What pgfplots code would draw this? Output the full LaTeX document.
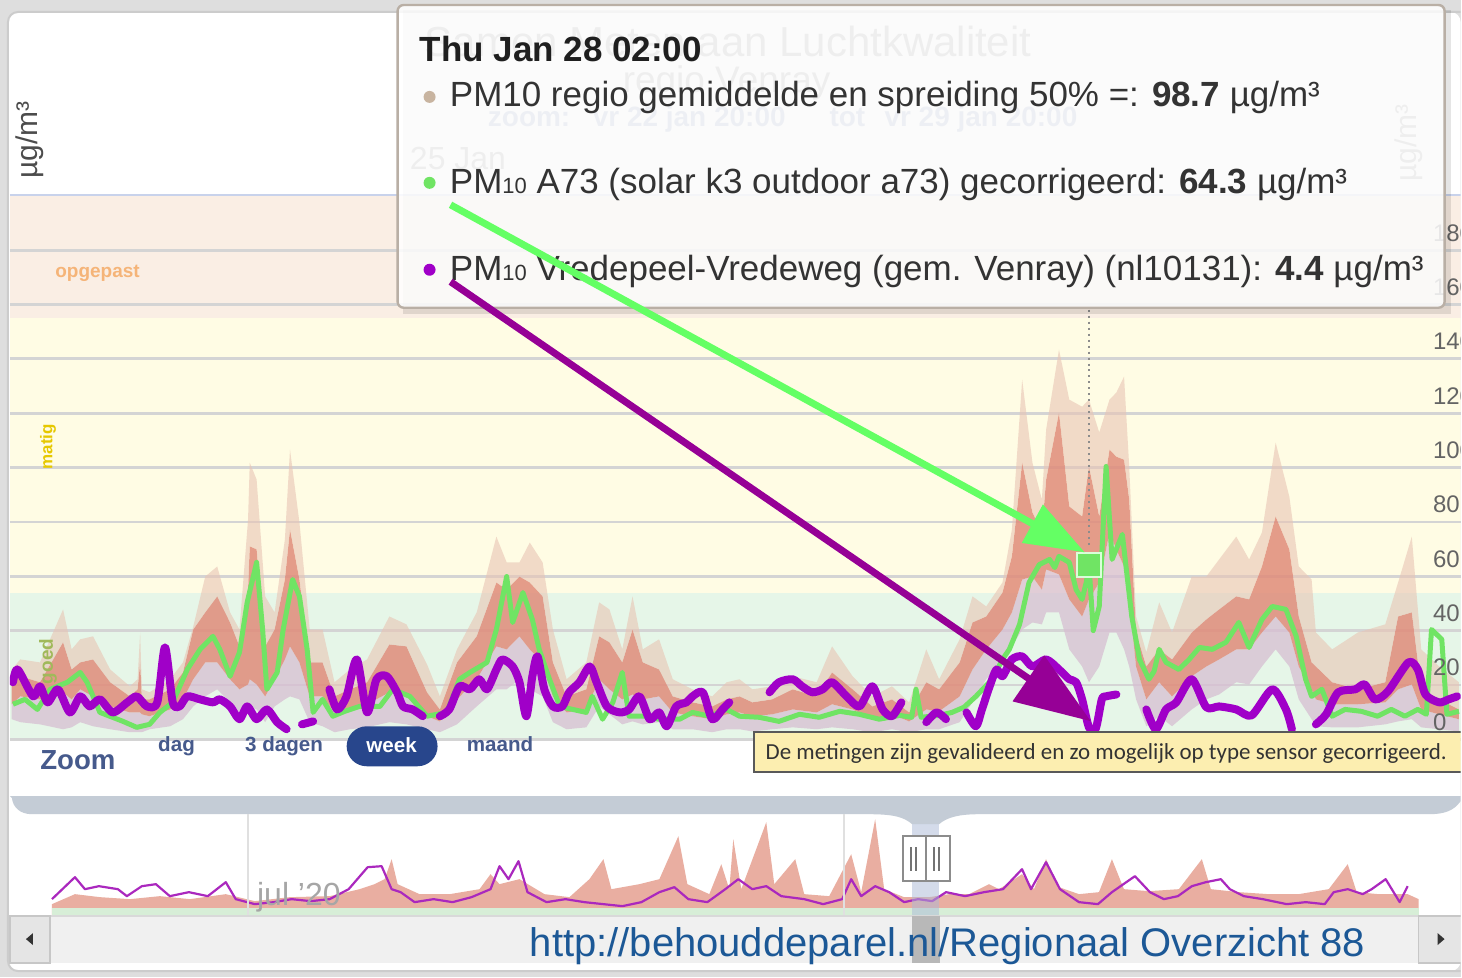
\documentclass[border=0pt]{standalone}
\usepackage{pgfplots}
\pgfplotsset{compat=1.18}
\usepackage{pgfplotstable}
\usetikzlibrary{arrows.meta}
\usepackage{fontspec}
\setmainfont{Liberation Sans}
\newfontfamily\notefont{Carlito}

\definecolor{bggrey}{RGB}{222,222,222}
\definecolor{bandG}{RGB}{230,246,232}
\definecolor{bandY}{RGB}{255,252,228}
\definecolor{bandO}{RGB}{250,238,228}
\definecolor{gridc}{RGB}{212,212,212}
\definecolor{tanc}{RGB}{232,196,180}
\definecolor{salm}{RGB}{224,140,122}
\definecolor{lavc}{RGB}{215,190,210}
\definecolor{grn}{RGB}{112,228,100}
\definecolor{pur}{RGB}{160,0,200}
\definecolor{arrG}{RGB}{100,255,100}
\definecolor{arrP}{RGB}{150,0,150}
\definecolor{navbar}{RGB}{196,204,214}
\definecolor{zoomtxt}{RGB}{70,90,140}
\definecolor{pill}{RGB}{40,70,140}
\definecolor{urlc}{RGB}{28,88,150}
\definecolor{notefill}{RGB}{252,238,176}
\definecolor{tickc}{RGB}{100,100,100}
\definecolor{tanbul}{RGB}{200,180,160}
\definecolor{topline}{RGB}{200,210,235}
\definecolor{navpurc}{RGB}{170,40,190}
\definecolor{navgreen}{RGB}{215,238,215}
\definecolor{subtitle}{RGB}{150,165,200}
\definecolor{maskc}{RGB}{170,185,215}
\definecolor{oppc}{RGB}{245,180,120}
\definecolor{matigc}{RGB}{230,200,0}
\definecolor{goedc}{RGB}{160,185,90}
\definecolor{tipborder}{RGB}{185,175,165}

\newcommand\fs[1]{\fontsize{#1bp}{#1bp}\selectfont}
\newcommand\sub[1]{{\fontsize{11bp}{11bp}\selectfont #1}}

% hours since vr 22 jan 20:00: max, upper 50%, lower 50%, min
\pgfplotstableread{
h hi ih il lo
0.2 25.7 22.1 12.9 7.4
1.2 29.4 23.2 15.8 6.3
3.5 28.3 21.0 14.7 5.5
6.2 47.8 35.7 17.3 3.7
7.2 33.1 25.7 14.7 4.4
8.2 36.8 28.3 18.4 6.3
9.7 37.9 29.4 15.8 4.8
11.7 25.7 21.0 12.1 3.7
14.0 19.5 15.8 9.9 2.6
14.9 22.1 18.4 9.9 2.6
15.2 39.3 28.3 9.9 2.6
15.4 18.4 14.7 9.2 2.6
16.3 17.3 14.7 8.5 3.7
18.7 22.1 18.4 11.0 4.8
20.2 28.3 24.6 14.7 7.4
21.4 41.5 40.4 22.1 12.1
22.8 59.9 46.7 28.3 15.8
24.2 63.6 52.6 28.3 18.4
25.7 46.7 43.0 22.1 13.6
26.8 40.4 34.2 18.4 9.9
27.8 80.9 55.1 20.2 11.0
28.0 101.8 71.0 22.1 12.1
28.8 95.6 69.9 20.2 11.0
29.8 52.6 34.2 15.8 6.3
30.9 46.7 40.4 22.1 12.1
32.1 73.5 58.8 29.4 14.7
32.7 106.6 77.2 34.2 15.8
33.8 79.8 58.8 28.3 14.7
35.0 40.4 28.3 15.8 6.3
36.5 40.4 28.3 15.8 4.8
37.9 21.0 15.8 9.9 2.6
39.7 25.7 18.4 11.0 3.7
41.7 29.4 21.0 12.9 4.4
44.3 45.2 34.9 17.3 6.3
46.3 42.3 34.2 15.8 5.5
48.7 27.6 17.3 8.5 3.7
50.2 15.8 11.0 6.6 2.6
52.2 33.1 28.3 14.7 5.5
54.5 46.7 37.9 22.1 12.1
56.8 74.6 57.7 34.2 18.4
58.0 65.1 55.1 33.1 18.4
59.5 65.1 59.9 37.9 22.1
60.7 72.4 57.7 33.1 18.4
62.2 65.1 52.6 28.3 15.8
63.4 40.4 28.3 15.8 6.3
65.0 22.1 15.8 9.9 3.7
67.3 28.3 18.4 11.0 4.4
68.8 50.4 37.9 22.1 12.1
70.0 47.8 35.7 18.4 9.2
71.5 33.1 28.3 14.7 5.5
72.7 52.6 40.4 16.5 6.6
73.9 33.1 28.3 14.7 5.5
75.8 36.8 25.7 15.8 6.3
77.4 22.1 15.8 9.9 3.7
79.7 18.4 13.6 8.5 3.7
82.0 15.8 12.1 7.4 2.6
83.7 21.0 14.7 9.2 3.7
85.2 22.1 15.8 9.9 3.7
86.7 18.4 13.6 8.5 2.9
89.0 19.5 14.7 9.2 3.7
91.4 23.2 18.4 11.0 4.4
94.2 21.0 15.8 9.9 3.7
96.0 34.2 24.6 12.9 4.4
98.4 23.2 18.4 11.0 3.7
100.7 15.8 12.1 7.4 2.6
103.0 19.5 14.7 9.2 3.7
105.0 13.6 9.9 6.6 2.6
107.0 33.1 21.0 11.0 3.7
108.5 22.1 18.4 10.3 3.7
110.9 36.8 28.3 15.8 6.3
112.4 52.6 43.0 25.7 13.6
114.0 48.9 45.2 33.1 22.1
115.9 57.7 54.0 40.4 28.3
117.0 77.2 67.3 46.7 34.2
118.2 132.4 101.8 58.8 40.4
119.4 101.8 83.5 59.9 43.0
120.5 88.2 76.1 55.1 42.3
121.0 114.0 95.6 62.5 46.7
122.5 143.4 120.2 60.7 46.7
123.7 125.0 85.7 51.5 33.1
125.2 122.4 82.0 45.2 26.8
126.0 125.0 100.4 51.5 21.0
127.2 112.9 82.0 57.7 26.8
128.4 125.0 106.6 76.1 39.3
129.2 127.6 104.0 69.9 39.3
130.1 133.5 102.9 63.6 33.1
130.7 100.4 88.2 51.5 26.8
131.5 45.2 39.3 26.8 14.7
132.7 32.0 26.8 14.7 4.8
134.2 50.4 33.1 21.0 8.5
135.7 39.3 29.4 15.8 4.8
138.0 59.9 39.3 23.2 11.0
139.7 59.9 44.1 26.8 14.7
141.2 66.2 47.8 29.4 16.5
143.2 74.6 52.6 33.1 21.0
144.7 66.2 51.5 33.1 20.2
146.2 76.1 63.6 39.3 26.8
147.8 109.2 82.0 45.2 33.1
149.4 89.3 69.9 39.3 26.8
150.5 63.6 45.2 26.8 14.7
152.0 58.8 28.3 18.4 7.4
152.5 39.3 26.8 14.7 4.8
154.4 33.1 21.0 12.9 4.4
157.4 39.3 18.4 12.9 4.4
160.6 42.3 21.0 13.6 5.5
162.1 57.7 45.2 18.4 6.6
163.7 74.6 46.7 20.2 7.4
164.8 33.1 18.4 11.0 4.4
166.9 26.8 14.7 9.2 3.7
169.2 21.0 11.0 7.4 2.9
}\band

% PM10 A73 gecorrigeerd
\pgfplotstableread{
h v
0.35 12.9
1.75 14.7
3.2 11.0
4.7 18.4
6.7 21.0
8.2 24.6
9.0 21.0
10.5 9.9
13.2 6.6
14.8 4.4
16.3 5.5
17.5 9.9
19.0 13.6
20.7 25.7
22.2 33.1
23.7 37.9
24.5 33.1
25.7 23.2
26.8 32.0
27.7 50.4
28.8 65.1
29.5 40.4
30.0 18.4
31.2 24.6
31.9 40.4
33.0 58.8
33.8 52.6
34.7 33.1
35.4 9.9
36.5 14.7
37.7 8.5
39.1 10.3
40.8 12.1
43.2 12.1
44.7 18.4
46.7 15.8
48.7 8.5
51.0 9.9
52.5 22.1
53.7 24.6
55.7 28.3
56.8 40.4
58.0 59.9
58.7 43.0
59.9 54.0
61.0 44.1
61.8 33.1
63.0 22.1
64.2 12.1
65.7 11.0
67.3 9.9
68.0 15.8
69.2 7.4
70.4 13.6
71.5 24.6
72.3 8.5
74.3 8.5
75.8 7.4
78.2 7.4
79.7 9.9
81.7 8.5
83.7 11.0
85.2 8.5
87.5 8.1
89.8 6.6
92.2 9.2
94.5 8.1
96.9 10.3
99.2 9.2
101.5 7.4
103.9 8.8
105.3 8.1
105.8 18.4
106.4 8.1
108.5 8.8
110.0 9.9
111.4 11.8
112.8 15.8
114.7 22.1
115.9 29.4
116.7 33.1
117.9 42.3
119.0 57.7
120.2 64.3
121.4 66.2
122.0 63.2
122.5 67.3
123.7 65.1
124.5 55.1
125.2 51.5
125.7 58.0
126.0 64.3
126.5 40.0
127.2 48.9
128.0 100.4
128.7 66.2
129.9 75.4
130.3 64.3
131.0 45.2
131.9 29.4
133.0 22.1
133.6 25.0
134.2 33.1
135.0 28.3
136.5 25.7
137.7 29.4
138.9 33.8
140.4 33.1
142.0 35.7
143.5 43.0
144.7 33.8
146.2 44.1
147.4 48.9
149.0 47.8
150.2 37.9
151.3 22.1
152.0 15.8
153.2 18.4
154.4 8.5
155.9 11.0
157.8 10.3
159.7 8.5
161.3 11.0
162.9 8.5
164.4 11.0
165.4 9.2
166.0 40.4
167.2 36.8
167.8 9.2
169.2 10.3
}\green

% PM10 Vredepeel-Vredeweg
\pgfplotstableread{
h v
0.35 21.0
0.9 25.7
2.7 15.8
3.5 19.5
4.4 13.6
5.6 18.4
7.0 9.9
8.2 15.8
9.3 12.1
10.5 14.7
12.0 9.9
13.7 13.6
14.8 15.8
16.0 12.1
17.2 13.6
18.1 33.8
19.0 13.6
19.8 12.1
20.7 15.8
22.2 14.7
23.7 13.6
24.5 14.7
25.7 12.1
26.8 7.4
27.7 12.1
28.8 7.4
30.0 11.0
31.2 6.3
32.3 3.7
33.2 nan
34.1 5.5
35.4 6.6
36.3 nan
37.3 18.4
38.2 11.0
39.3 15.8
40.5 29.4
41.7 9.9
42.8 22.1
44.0 23.2
45.2 17.3
45.9 12.1
47.0 11.0
48.2 8.5
49.2 nan
50.2 8.5
51.3 11.0
52.5 19.5
53.7 18.4
54.8 22.1
55.7 18.4
56.8 25.7
57.5 29.4
58.7 26.8
59.5 21.0
60.3 8.5
61.0 23.2
61.6 30.5
62.4 18.4
63.4 12.1
64.5 12.1
65.3 17.3
66.5 21.0
67.7 26.8
68.5 21.0
69.7 12.1
71.2 9.9
72.3 11.0
73.5 15.8
74.7 7.4
75.8 9.9
76.7 4.8
77.8 12.1
79.0 13.6
79.7 15.8
80.9 17.3
82.0 7.4
83.2 11.0
84.0 13.6
86.0 nan
88.7 17.3
89.8 21.0
91.4 22.1
92.5 19.5
93.7 17.3
94.9 18.4
96.0 21.0
97.7 15.8
99.2 12.1
100.7 19.5
101.9 11.0
103.0 8.5
104.1 13.6
105.5 nan
107.0 6.3
108.2 9.9
109.3 7.4
110.5 nan
111.7 9.9
112.8 4.8
113.5 11.0
114.4 19.5
115.2 25.7
115.9 23.2
117.0 29.4
118.2 30.5
119.4 26.8
121.0 29.4
122.5 25.7
123.7 22.1
124.5 21.0
125.2 14.7
126.0 4.4
126.8 4.0
127.5 14.7
128.0 15.8
129.2 16.5
131.0 nan
132.7 11.0
133.8 3.7
135.0 11.0
136.2 13.6
138.0 22.1
139.7 11.8
141.2 12.1
143.2 11.0
145.0 8.8
147.4 18.4
149.0 11.0
149.7 3.7
151.0 nan
152.5 5.5
153.7 9.2
155.1 17.3
157.1 18.4
158.2 20.2
159.4 14.7
160.9 17.6
163.3 28.3
164.4 25.7
165.3 16.5
166.9 13.6
168.0 14.7
169.0 15.8
}\purple

% navigator (position along the overview strip)
\pgfplotstableread{
x y
52 12
75 22
100 19
130 17
160 20
190 17
226 22
255 15
290 19
330 20
360 27
375 32
385 37
392 57
398 32
420 22
450 22
480 27
491 42
500 32
520 37
545 22
570 19
590 37
604 57
612 27
640 32
660 37
679 80
688 32
710 22
722 52
730 27
734 77
742 27
767 94
775 32
796 57
805 22
830 20
852 62
862 24
876 97
885 27
905 19
930 19
950 22
970 22
990 32
1000 27
1023 42
1035 27
1047 57
1060 29
1080 22
1100 24
1113 57
1125 27
1150 25
1180 27
1203 57
1212 27
1240 24
1270 22
1300 22
1330 27
1349 52
1358 24
1380 22
1409 22
1420 17
}\navtop

\pgfplotstableread{
x y
52 17
75 39
85 27
99 30
118 27
127 20
142 30
156 32
170 20
189 24
208 20
226 34
236 17
255 12
274 14
292 17
311 15
330 17
349 27
368 49
382 50
392 27
401 24
415 14
434 17
453 14
472 19
491 27
500 50
509 37
519 55
528 24
547 14
566 17
585 14
604 12
623 10
642 14
660 24
675 29
689 17
708 14
726 27
739 37
753 27
767 30
782 20
805 17
824 12
843 17
852 37
862 20
876 30
890 24
905 14
919 17
933 15
947 24
966 20
985 24
1004 27
1023 47
1032 27
1047 54
1061 27
1080 14
1099 12
1113 24
1136 40
1151 24
1165 17
1179 20
1193 30
1207 34
1222 37
1231 27
1245 20
1264 17
1288 12
1307 14
1326 12
1335 24
1349 27
1364 22
1373 27
1387 37
1401 14
1409 30
}\navpur

\begin{document}
\begin{tikzpicture}
\tikzset{every node/.style={inner sep=0pt}}
\begin{scope}[x=0.5bp,y=-0.5bp]
\fill[bggrey] (0,0) rectangle (1462,978);
\fill[white, rounded corners=5bp] (8,12) rectangle (1462,972);
\draw[black!20, line width=1bp, rounded corners=5bp] (1462,12) -- (8,12) -- (8,972) -- (1462,972);
\end{scope}

% air quality bands
\begin{axis}[at={(5bp,-370bp)}, anchor=south west, scale only axis,
  width=726bp, height=272bp, xmin=0, xmax=169.4, ymin=0, ymax=200, hide axis]
\addplot[draw=none, forget plot] coordinates {(0,0) (169.4,200)};
\fill[bandG] (axis cs:0,0) rectangle (axis cs:169.4,54);
\fill[bandY] (axis cs:0,54) rectangle (axis cs:169.4,155);
\fill[bandO] (axis cs:0,155) rectangle (axis cs:169.4,200);
\end{axis}

% main chart
\begin{axis}[at={(5bp,-370bp)}, anchor=south west, scale only axis,
  width=726bp, height=272bp, xmin=0, xmax=169.4, ymin=0, ymax=200,
  axis line style={draw=none}, xtick=\empty, ytick={0,20,...,180}, yticklabels={},
  ymajorgrids, grid style={gridc, line width=1.4bp}, major tick length=0pt]
\addplot[draw=none, forget plot, stack plots=y] table[x=h,y=lo]{\band};
\addplot[fill=lavc, fill opacity=0.75, draw=none, stack plots=y] table[x=h, y expr=\thisrow{il}-\thisrow{lo}]{\band} \closedcycle;
\addplot[fill=salm, fill opacity=0.85, draw=none, stack plots=y] table[x=h, y expr=\thisrow{ih}-\thisrow{il}]{\band} \closedcycle;
\addplot[fill=tanc, fill opacity=0.6, draw=none, stack plots=y] table[x=h, y expr=\thisrow{hi}-\thisrow{ih}]{\band} \closedcycle;
\addplot[grn, line width=2.5bp, line join=round] table[x=h,y=v]{\green};
\addplot[pur, line width=4bp, line join=round, line cap=round, smooth, tension=0.45, unbounded coords=jump] table[x=h,y=v]{\purple};
\addplot[only marks, mark=square*, mark size=6bp, mark options={fill=grn, draw=green!15, line width=1bp}] coordinates {(126.0,64.3)};
\end{axis}

% navigator series
\begin{axis}[at={(0bp,-458.5bp)}, anchor=south west, scale only axis,
  width=731bp, height=51bp, xmin=0, xmax=1462, ymin=0, ymax=102, hide axis]
\addplot[fill=salm, fill opacity=0.7, draw=none] table[x=x,y=y]{\navtop} \closedcycle;
\addplot[fill=navgreen, draw=none] coordinates {(52,8) (1420,8)} \closedcycle;
\addplot[navpurc, line width=1.1bp, line join=round] table[x=x,y=y]{\navpur};
\end{axis}

\begin{scope}[x=0.5bp,y=-0.5bp]
\clip (0,0) rectangle (1462,978);
% right axis labels
\foreach \v in {0,20,...,180}
  \node[anchor=base west, text=tickc, font=\fs{12}] at (1434,{731-\v*2.72}) {\v};
\draw[topline, line width=1bp] (10,195) -- (1462,195);
\draw[black!45, dotted, line width=1bp] (1090,310) -- (1090,548);

% band labels and axis titles
\node[anchor=base west, text=oppc, font=\bfseries\fs{9.5}] at (55,278) {opgepast};
\node[rotate=90, text=matigc, font=\bfseries\fs{8.5}] at (48,447) {matig};
\node[rotate=90, text=goedc, font=\bfseries\fs{9.5}] at (48,662) {goed};
\node[rotate=90, text=black!70, font=\fs{15}] at (30,140) {µg/m³};
\node[rotate=90, text=black!40, font=\fs{15}] at (1410,143) {µg/m³};

% title block (behind the tooltip)
\node[anchor=base west, text=black!40, font=\fs{21}] at (425,57) {Samen Meten aan Luchtkwaliteit};
\node[anchor=base west, text=black!40, font=\fs{18.5}] at (623,93) {regio Venray};
\node[anchor=base west, text=subtitle, font=\bfseries\fs{14}] at (488,127) {zoom:};
\node[anchor=base west, text=subtitle, font=\bfseries\fs{14}] at (593,127) {vr 22 jan 20:00};
\node[anchor=base west, text=subtitle, font=\bfseries\fs{14}] at (830,127) {tot};
\node[anchor=base west, text=subtitle, font=\bfseries\fs{14}] at (885,127) {vr 29 jan 20:00};
\node[anchor=base west, text=black!40, font=\fs{16}] at (410,170) {25 Jan};

% tooltip
\fill[black, opacity=0.10] (403,10) rectangle (1452,314);
\filldraw[fill=white, fill opacity=0.86, draw=tipborder, line width=1.2bp, rounded corners=3bp] (398,5) rectangle (1446,308);
\node[anchor=base west, font=\bfseries\fs{17.5}, text=black!88] at (420,62) {Thu Jan 28 02:00};
\fill[tanbul] (430,97) circle (3bp);
\node[anchor=base west, font=\fs{17.5}, text=black!80] at (450,107) {PM10 regio gemiddelde en spreiding 50\% =: \textbf{98.7} µg/m³};
\fill[grn] (430,183) circle (3bp);
\node[anchor=base west, font=\fs{17.5}, text=black!80] at (450,194) {PM\sub{10} A73 (solar k3 outdoor a73) gecorrigeerd: \textbf{64.3} µg/m³};
\fill[pur] (430,270) circle (3bp);
\node[anchor=base west, font=\fs{17.5}, text=black!80] at (450,281) {PM\sub{10} Vredepeel-Vredeweg (gem. Venray) (nl10131): \textbf{4.4} µg/m³};

% arrows
\draw[arrG, line width=3.5bp, -{Triangle[length=30bp,width=21bp]}] (451,205) -- (1086,553);
\draw[arrP, line width=3.5bp, -{Triangle[length=38bp,width=27bp]}] (451,282) -- (1092,722);

% zoom buttons
\node[anchor=base west, font=\bfseries\fs{13.8}, text=zoomtxt] at (40,770) {Zoom};
\node[anchor=base west, font=\bfseries\fs{10.3}, text=zoomtxt] at (158,752) {dag};
\node[anchor=base west, font=\bfseries\fs{10.3}, text=zoomtxt] at (245,752) {3 dagen};
\fill[pill, rounded corners=10bp] (347,727) rectangle (438,767);
\node[font=\bfseries\fs{10.3}, text=white, anchor=base] at (392,753) {week};
\node[anchor=base west, font=\bfseries\fs{10.3}, text=zoomtxt] at (467,752) {maand};

% note
\fill[notefill] (755,733) rectangle (1462,773);
\draw[black!65, line width=1bp] (1462,733) -- (755,733) -- (755,773) -- (1462,773);
\node[anchor=base west, font=\notefont\fs{11.5}, text=black!80] at (766,760) {De metingen zijn gevalideerd en zo mogelijk op type sensor gecorrigeerd.};

% navigator frame
\fill[navbar] (10,797) -- (1462,797) -- (1462,802) .. controls (1455,812) and (1445,815) .. (1430,815)
  -- (980,815) .. controls (960,815) and (948,818) .. (940,825) -- (913,825)
  .. controls (905,818) and (895,815) .. (870,815) -- (32,815) .. controls (20,815) and (13,808) .. (12,799) -- cycle;
\draw[black!12, line width=1bp] (248,815) -- (248,917);
\draw[black!12, line width=1bp] (845,815) -- (845,917);
\node[anchor=base west, text=black!35, font=\fs{16}] at (257,906) {jul '20};
\fill[maskc, opacity=0.5] (913,825) rectangle (940,917);
\fill[black!6] (10,917) rectangle (1462,964);
\draw[black!15, line width=0.8bp] (10,917) -- (1462,917);
\fill[black!28] (913,917) rectangle (941,964);
\filldraw[fill=black!10, draw=black!22, line width=0.8bp] (10,917) rectangle (50,964);
\fill[black!80] (26,940) -- (33,934) -- (33,946) -- cycle;
\fill[black!10] (1420,917) rectangle (1462,964);
\draw[black!22, line width=0.8bp] (1462,917) -- (1420,917) -- (1420,964) -- (1462,964);
\fill[black!80] (1446,940) -- (1439,934) -- (1439,946) -- cycle;
\filldraw[fill=white, draw=black!45, line width=1bp] (904,837) rectangle (927,882);
\filldraw[fill=white, draw=black!45, line width=1bp] (927,837) rectangle (951,882);
\draw[black!55, line width=1.2bp] (912,848) -- (912,872) (917,848) -- (917,872) (935,848) -- (935,872) (940,848) -- (940,872);

\node[anchor=base west, font=\fs{20}, text=urlc] at (530,957) {http://behouddeparel.nl/Regionaal Overzicht 88};
\end{scope}
\end{tikzpicture}
\end{document}
